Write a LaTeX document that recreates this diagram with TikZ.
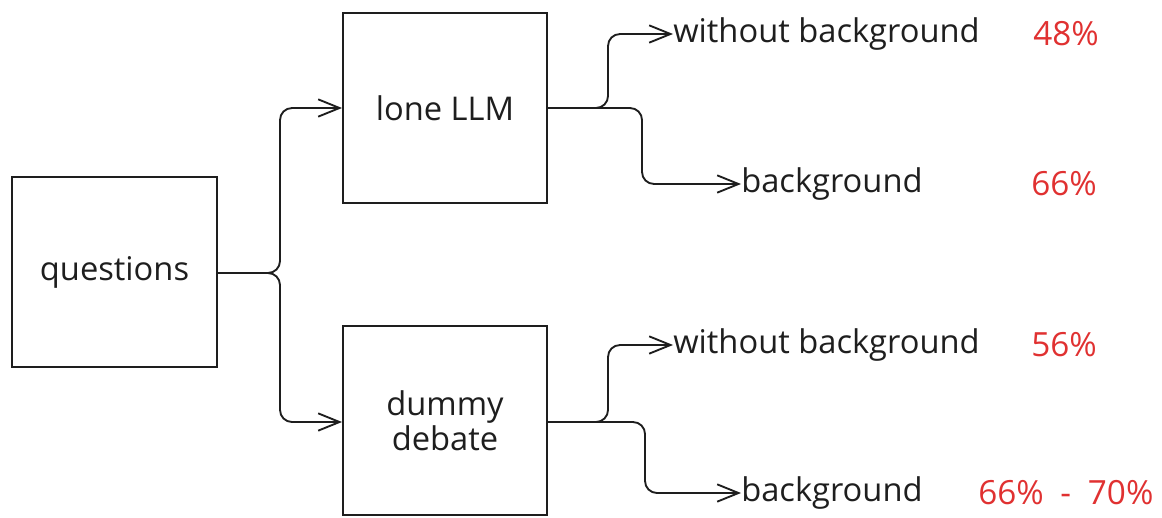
\documentclass[tikz,border=0pt]{standalone}
\usepackage{fontspec}
\setmainfont{Open Sans}
\usetikzlibrary{arrows.meta}
\definecolor{ink}{HTML}{1E1E1E}
\definecolor{pct}{HTML}{E03131}
\tikzset{
  box/.style={draw=ink, line width=1.5pt, inner sep=0pt},
  lbl/.style={text=ink, font=\fontsize{24.5}{26.5}\selectfont, inner sep=0pt},
  val/.style={text=pct, font=\fontsize{25}{27}\selectfont, inner sep=0pt},
  conn/.style={draw=ink, line width=1.4pt, rounded corners=9pt,
    -{Straight Barb[length=16pt,width=13pt,line width=1.4pt]}}
}
\begin{document}
\begin{tikzpicture}[x=0.75pt,y=-0.75pt]
\useasboundingbox (0,0) rectangle (1162,517);
% boxes
\node[box, minimum width=153.75pt, minimum height=142.5pt] (q) at (114.5,272) {};
\node[lbl] (qt) at (q.center) {questions};
\node[box, minimum width=153pt, minimum height=142.5pt] (llm) at (445,108) {};
\node[lbl] (llmt) at (llm.center) {lone LLM};
\node[box, minimum width=153pt, minimum height=141.75pt] (dd) at (445,420.5) {};
\node[lbl, align=center] (ddt) at (dd.center) {dummy\\debate};
% outcomes
\node[lbl, anchor=west] (t1) at (673,34) {without background};
\node[lbl, anchor=west] (t2) at (741,184) {background};
\node[lbl, anchor=west] (t3) at (673,345) {without background};
\node[lbl, anchor=west] (t4) at (741,493) {background};
\node[val, anchor=west] (p1) at (1033,34) {48\%};
\node[val, anchor=west] (p2) at (1031,184) {66\%};
\node[val, anchor=west] (p3) at (1031,345) {56\%};
\node[val, anchor=west] (p4) at (978,493) {66\%\hspace{6pt} - \hspace{6pt}70\%};
% split points
\coordinate (qs) at (280,273);
\coordinate (la) at (608,108);
\coordinate (lb) at (642,108);
\coordinate (da) at (608,422);
\coordinate (db) at (645,422);
% connectors
\draw[conn] (q.east |- qs) -- (qs) |- (llm.west);
\draw[conn] (q.east |- qs) -- (qs) |- (dd.west |- 0,422);
\draw[conn] (llm.east) -- (la) |- (t1.west);
\draw[conn] (llm.east) -- (lb) |- (t2.west);
\draw[conn] (dd.east |- da) -- (da) |- (t3.west);
\draw[conn] (dd.east |- db) -- (db) |- (t4.west);
\end{tikzpicture}
\end{document}
